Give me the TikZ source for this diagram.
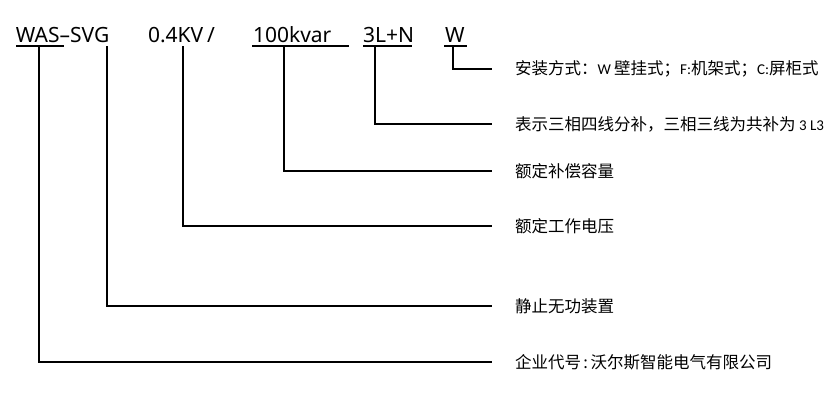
\documentclass[tikz,border=0pt]{standalone}
\usepackage{fontspec}
\setmainfont{Noto Sans}
\newfontfamily\cjkfont{Noto Sans CJK SC}
\newfontfamily\latfont{Carlito}
\newcommand\latw[1]{{\latfont\fontsize{15}{15}\selectfont #1}}
\begin{document}
\begin{tikzpicture}[x=1pt,y=-1pt,
  code/.style={inner sep=0pt, outer sep=0pt, anchor=base west, font=\fontsize{21}{21}\selectfont},
  desc/.style={inner sep=0pt, outer sep=0pt, anchor=west, font=\cjkfont\fontsize{16.5}{16.5}\selectfont},
  conn/.style={line width=1.3pt, line join=miter},
  uline/.style={line width=1.3pt}]
\useasboundingbox (0,0) rectangle (838,402);

% code segments
\node[code] (was) at (16,42) {WAS};
\node[code] (svg) at (was.base east) {–SVG};
\node[code] (kv) at (148,42) {0.4KV\hspace{4pt}/};
\node[code] (kvar) at (253,42) {100kvar};
\node[code] (ln) at (363,42) {3L+N};
\node[code] (w) at (445,42) {W};

% underlines
\coordinate (ua) at (16,46);  \coordinate (ub) at (64,46);
\coordinate (uc) at (252,46); \coordinate (ud) at (349,46);
\coordinate (ue) at (363,46); \coordinate (uf) at (412,46);
\coordinate (ug) at (444,46); \coordinate (uh) at (467,46);
\draw[uline] (ua) -- (ub);
\draw[uline] (uc) -- (ud);
\draw[uline] (ue) -- (uf);
\draw[uline] (ug) -- (uh);

% descriptions
\node[desc] (d1) at (515,69) {安装方式：\latw{W }壁挂式；\latw{F:}机架式；\latw{C:}屏柜式};
\node[desc] (d2) at (515,124) {表示三相四线分补，三相三线为共补为 \latw{3 L3}};
\node[desc] (d3) at (515,171) {额定补偿容量};
\node[desc] (d4) at (515,226) {额定工作电压};
\node[desc] (d5) at (515,306) {静止无功装置};
\node[desc] (d6) at (515,362) {企业代号\hspace{2.5pt}:\hspace{2.5pt}沃尔斯智能电气有限公司};

% connector start and end points
\coordinate (s1) at (453,46); \coordinate (e1) at (492,69);
\coordinate (s2) at (375,46); \coordinate (e2) at (492,124);
\coordinate (s3) at (284,46); \coordinate (e3) at (492,171);
\coordinate (s4) at (183,46); \coordinate (e4) at (492,226);
\coordinate (s5) at (107,46); \coordinate (e5) at (492,306);
\coordinate (s6) at (39,46);  \coordinate (e6) at (492,362);

\draw[conn] (s1) |- (e1);
\draw[conn] (s2) |- (e2);
\draw[conn] (s3) |- (e3);
\draw[conn] (s4) |- (e4);
\draw[conn] (s5) |- (e5);
\draw[conn] (s6) |- (e6);
\end{tikzpicture}
\end{document}
